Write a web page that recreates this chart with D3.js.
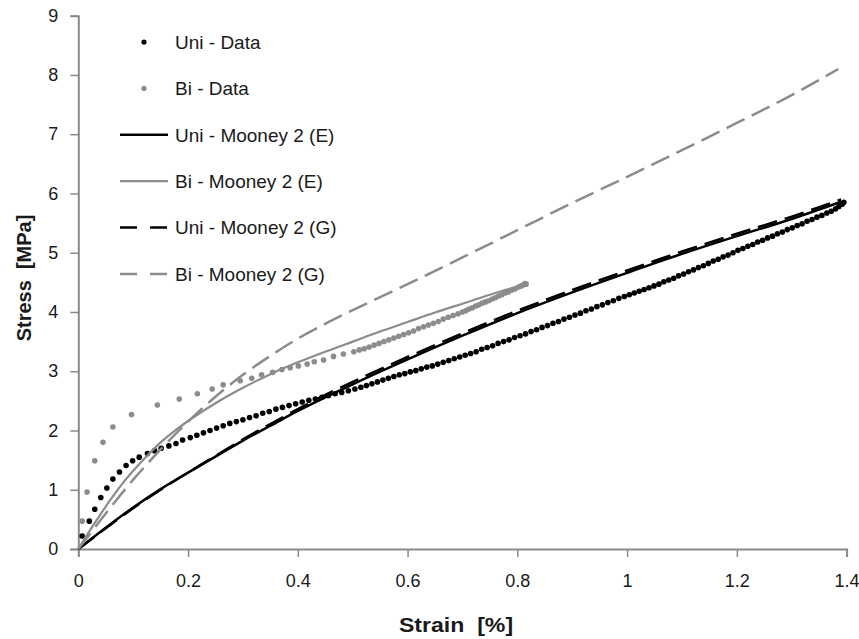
<!DOCTYPE html>
<html>
<head>
<meta charset="utf-8">
<script src="https://cdn.jsdelivr.net/npm/d3@7"></script>
<style>
  html, body { margin: 0; padding: 0; background: #fff; }
  svg { display: block; font-family: "Liberation Sans", Arial, sans-serif; }
</style>
</head>
<body>
<svg id="chart" width="859" height="639"></svg>
<script>
// ---- Data ----
const xTicks = [0, 0.2, 0.4, 0.6, 0.8, 1, 1.2, 1.4];
const yTicks = [0, 1, 2, 3, 4, 5, 6, 7, 8, 9];

const uniDataStrain = [0.007,0.020,0.030,0.041,0.052,0.063,0.075,0.087,0.099,0.111,0.126,0.139,0.151,0.165,0.178,0.190,0.204,0.216,
  0.228,0.240,0.252,0.264,0.276,0.288,0.300,0.312,0.324,0.336,0.348,0.360,0.372,0.384,0.396,0.408,0.420,0.432,0.444,0.456,0.468,0.480,0.492,0.504,
  0.515,0.525,0.535,0.545,0.555,0.565,0.575,0.585,0.595,0.605,0.615,0.625,0.635,0.645,0.655,0.665,0.675,0.685,0.695,0.705,0.715,0.725,0.735,0.745,
  0.755,0.765,0.775,0.785,0.795,0.805,0.815,0.825,0.835,0.845,0.855,0.865,0.875,0.885,0.895,0.905,0.915,0.925,0.935,0.945,0.955,0.965,0.975,0.985,0.995,
  1.004,1.013,1.022,1.031,1.040,1.049,1.058,1.067,1.076,1.085,1.094,1.103,1.112,1.121,1.130,1.139,1.148,1.157,1.166,1.175,1.184,1.193,1.202,1.211,
  1.220,1.229,1.238,1.247,1.256,1.265,1.274,1.283,1.292,1.301,1.310,1.319,1.328,1.337,1.346,1.355,1.364,1.372,1.380,1.386,1.392,1.395];
const uniDataStress = [0.22,0.47,0.67,0.87,1.03,1.18,1.30,1.41,1.49,1.55,1.61,1.66,1.70,1.74,1.78,1.84,1.88,1.92,
  1.96,2.00,2.04,2.08,2.12,2.15,2.18,2.22,2.25,2.29,2.32,2.36,2.39,2.42,2.45,2.48,2.51,2.53,2.56,2.59,2.62,2.64,2.67,2.70,
  2.73,2.76,2.79,2.82,2.85,2.88,2.91,2.94,2.96,2.99,3.01,3.04,3.07,3.09,3.12,3.15,3.18,3.21,3.24,3.27,3.30,3.33,3.37,3.40,
  3.43,3.47,3.50,3.53,3.57,3.60,3.63,3.67,3.70,3.74,3.77,3.81,3.84,3.88,3.91,3.95,3.98,4.02,4.05,4.09,4.12,4.16,4.19,4.23,4.26,
  4.29,4.32,4.35,4.38,4.41,4.44,4.47,4.51,4.54,4.57,4.61,4.64,4.68,4.71,4.75,4.78,4.82,4.86,4.89,4.93,4.96,5.00,5.04,5.07,
  5.11,5.14,5.18,5.21,5.25,5.28,5.32,5.35,5.39,5.42,5.46,5.49,5.53,5.56,5.60,5.63,5.67,5.70,5.74,5.78,5.82,5.85];

const biDataStrain = [0.007,0.016,0.030,0.045,0.063,0.097,0.144,0.184,0.217,0.244,0.264,0.295,0.316,0.334,0.354,0.371,0.386,0.401,0.417,0.430,0.447,0.465,0.483,0.502,
  0.512,0.521,0.530,0.539,0.548,0.557,0.566,0.575,0.584,0.593,0.602,0.611,0.620,0.629,0.638,0.647,0.656,0.665,0.674,0.683,0.692,
  0.700,0.706,0.712,0.718,0.724,0.730,0.736,0.742,0.748,0.754,0.760,0.766,0.772,0.778,0.784,0.790,0.796,0.802,0.807,0.811,0.814,0.816];
const biDataStress = [0.47,0.96,1.49,1.80,2.06,2.27,2.43,2.53,2.62,2.70,2.77,2.84,2.88,2.94,2.98,3.03,3.06,3.09,3.12,3.16,3.19,3.25,3.29,3.33,
  3.36,3.38,3.41,3.44,3.47,3.50,3.53,3.56,3.59,3.62,3.65,3.68,3.72,3.75,3.78,3.81,3.84,3.88,3.91,3.94,3.97,
  4.00,4.02,4.05,4.07,4.10,4.12,4.15,4.17,4.19,4.22,4.24,4.27,4.29,4.32,4.34,4.37,4.39,4.42,4.44,4.46,4.48,4.47];

const uniMooneyEStrain = [0,0.05,0.1,0.15,0.2,0.25,0.3,0.35,0.4,0.45,0.5,0.6,0.7,0.8,0.9,1.0,1.1,1.2,1.3,1.39];
const uniMooneyEStress = [0,0.36,0.70,1.01,1.29,1.56,1.83,2.08,2.33,2.56,2.78,3.20,3.60,3.98,4.33,4.66,4.98,5.28,5.57,5.86];

const uniMooneyGStrain = [0,0.05,0.1,0.15,0.2,0.25,0.3,0.35,0.4,0.45,0.5,0.6,0.7,0.8,0.9,1.0,1.1,1.2,1.3,1.39];
const uniMooneyGStress = [0,0.35,0.69,1.00,1.29,1.57,1.85,2.11,2.36,2.60,2.82,3.24,3.64,4.02,4.37,4.70,5.02,5.32,5.61,5.90];

const biMooneyEStrain = [0,0.02,0.04,0.06,0.08,0.1,0.125,0.15,0.175,0.2,0.25,0.3,0.35,0.4,0.45,0.5,0.55,0.6,0.65,0.7,0.75,0.815];
const biMooneyEStress = [0,0.30,0.58,0.85,1.10,1.32,1.57,1.80,1.99,2.16,2.46,2.72,2.95,3.15,3.33,3.50,3.67,3.83,3.99,4.14,4.29,4.47];

const biMooneyGStrain = [0,0.025,0.05,0.075,0.1,0.125,0.15,0.175,0.2,0.25,0.3,0.35,0.4,0.45,0.5,0.6,0.7,0.8,0.9,1.0,1.1,1.2,1.3,1.385];
const biMooneyGStress = [0,0.30,0.60,0.89,1.17,1.43,1.68,1.92,2.15,2.57,2.94,3.26,3.55,3.80,4.03,4.47,4.92,5.38,5.84,6.28,6.73,7.19,7.66,8.10];

const legendLabels = ["Uni - Data","Bi - Data","Uni - Mooney 2 (E)","Bi - Mooney 2 (E)","Uni - Mooney 2 (G)","Bi - Mooney 2 (G)"];

// ---- Styles ----
const BLACK = "#000000", GRAY = "#8c8c8c", AXIS = "#8a8a8a", TEXT = "#1a1a1a";
const DASH = "20,8";

const svg = d3.select("#chart");
const x = d3.scaleLinear().domain([0, 1.4]).range([78.3, 846.6]);
const y = d3.scaleLinear().domain([0, 9]).range([549, 15.7]);

// Axes
const xAxis = d3.axisBottom(x).tickValues(xTicks).tickSize(8).tickPadding(12)
  .tickFormat(d => String(d));
const yAxis = d3.axisLeft(y).tickValues(yTicks).tickSize(8).tickPadding(12)
  .tickFormat(d => String(d));

const gx = svg.append("g").attr("transform", `translate(0,${y(0)})`).call(xAxis);
const gy = svg.append("g").attr("transform", `translate(${x(0)},0)`).call(yAxis);
[gx, gy].forEach(g => {
  g.select(".domain").attr("stroke", AXIS).attr("stroke-width", 2);
  g.selectAll(".tick line").attr("stroke", AXIS).attr("stroke-width", 1.5);
  g.selectAll(".tick text").attr("fill", TEXT).style("font-size", "18px")
    .style("font-family", "'Liberation Sans', Arial, sans-serif");
});
gx.selectAll(".tick text").attr("dy", "0.98em");

// Axis titles
svg.append("text").attr("transform", "translate(456,632) scale(1.1,1)").attr("text-anchor", "middle")
  .attr("fill", TEXT).style("font-size", "21px").style("font-weight", "bold")
  .attr("xml:space", "preserve").text("Strain  [%]");
svg.append("text").attr("transform", "translate(31,278) rotate(-90)").attr("text-anchor", "middle")
  .attr("fill", TEXT).style("font-size", "20px").style("font-weight", "bold")
  .attr("xml:space", "preserve").text("Stress  [MPa]");

const plot = svg.append("g");

function pts(xs, ys) { return xs.map((v, i) => [v, ys[i]]); }

// Data markers
plot.append("g").selectAll("circle").data(pts(uniDataStrain, uniDataStress)).join("circle")
  .attr("cx", d => x(d[0])).attr("cy", d => y(d[1])).attr("r", 2.8).attr("fill", BLACK);
plot.append("g").selectAll("circle").data(pts(biDataStrain, biDataStress)).join("circle")
  .attr("cx", d => x(d[0])).attr("cy", d => y(d[1])).attr("r", 2.8).attr("fill", GRAY);

// Fit lines
const line = d3.line().x(d => x(d[0])).y(d => y(d[1])).curve(d3.curveMonotoneX);
const series = [
  { xs: uniMooneyEStrain, ys: uniMooneyEStress, color: BLACK, width: 2.5, dash: null },
  { xs: biMooneyEStrain,  ys: biMooneyEStress,  color: GRAY,  width: 2.2, dash: null },
  { xs: uniMooneyGStrain, ys: uniMooneyGStress, color: BLACK, width: 2.5, dash: DASH },
  { xs: biMooneyGStrain,  ys: biMooneyGStress,  color: GRAY,  width: 2.5, dash: DASH },
];
series.forEach(s => {
  plot.append("path").datum(pts(s.xs, s.ys)).attr("d", line)
    .attr("fill", "none").attr("stroke", s.color).attr("stroke-width", s.width)
    .attr("stroke-dasharray", s.dash);
});

// Legend
const legY0 = 42, legDy = 46.4;
const leg = svg.append("g");
const legendStyles = [
  { type: "dot", color: BLACK }, { type: "dot", color: GRAY },
  { type: "line", color: BLACK, width: 2.5, dash: null }, { type: "line", color: GRAY, width: 2.2, dash: null },
  { type: "line", color: BLACK, width: 2.5, dash: "17,13" }, { type: "line", color: GRAY, width: 2.5, dash: "17,13" },
];
legendLabels.forEach((lab, i) => {
  const yy = legY0 + i * legDy;
  const st = legendStyles[i];
  if (st.type === "dot") {
    leg.append("circle").attr("cx", 144).attr("cy", yy).attr("r", 2.6).attr("fill", st.color);
  } else {
    leg.append("line").attr("x1", 120).attr("x2", 168).attr("y1", yy).attr("y2", yy)
      .attr("stroke", st.color).attr("stroke-width", st.width).attr("stroke-dasharray", st.dash);
  }
  leg.append("text").attr("x", 175).attr("y", yy).attr("dy", "0.36em")
    .attr("fill", TEXT).style("font-size", "19px").text(lab);
});
</script>
</body>
</html>
